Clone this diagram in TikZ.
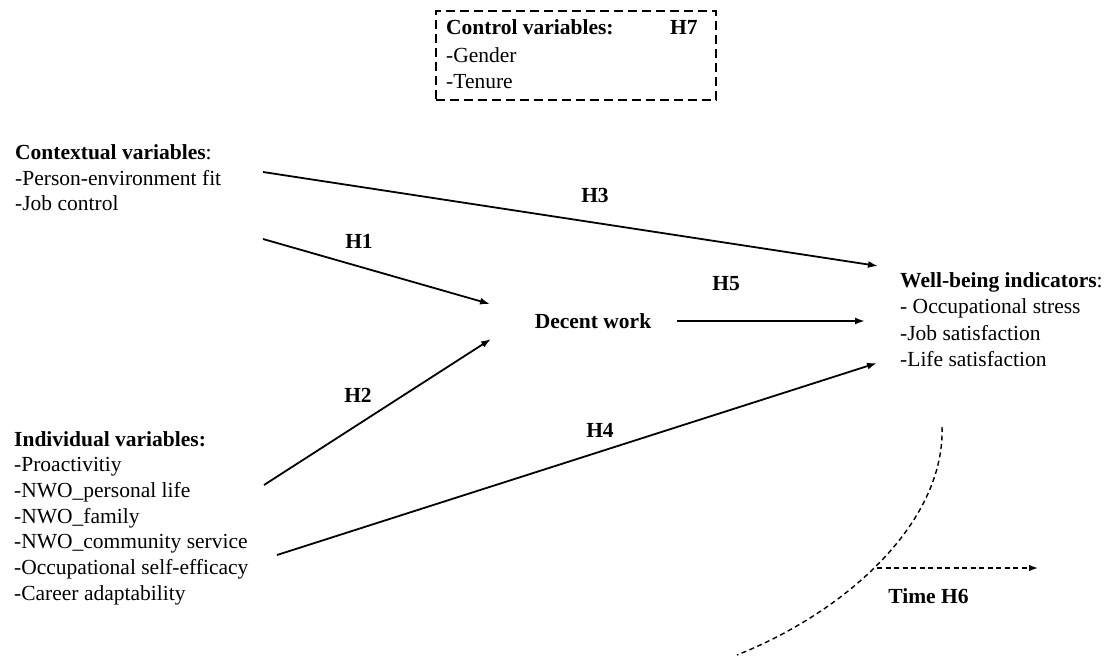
\documentclass[tikz,border=0pt]{standalone}
\usepackage{fontspec}
\setmainfont{Liberation Serif}
\usetikzlibrary{arrows.meta}
\begin{document}
\begin{tikzpicture}[x=1pt,y=-1pt,
  txt/.style={inner sep=0pt, anchor=base west, font=\fontsize{21.5}{25.6}\selectfont},
  hlabel/.style={inner sep=0pt, anchor=base, font=\fontsize{21.5}{25.6}\selectfont\bfseries},
  link/.style={line width=1.8pt, -{Latex[length=10pt,width=7pt]}},
  timeline/.style={line width=1.4pt, dash pattern=on 5pt off 3.5pt},
  ctrlbox/.style={draw, line width=1.8pt, dash pattern=on 9pt off 5pt, inner sep=0pt, anchor=north west}]
\useasboundingbox (0,0) rectangle (1110,668);

% control variables box
\node[ctrlbox, minimum width=280pt, minimum height=89pt] (ctrl) at (435,10) {};
\node[txt] (ctrlhead) at (446,35) {\textbf{Control variables:}};
\node[txt] (h7) at (670,35) {\textbf{H7}};
\node[txt] (ctrl1) at (446,63) {-Gender};
\node[txt] (ctrl2) at (446,88.5) {-Tenure};

% contextual variables
\node[txt] (ctx) at (15,160) {\textbf{Contextual variables}:};
\node[txt] (ctx1) at (15,185.5) {-Person-environment fit};
\node[txt] (ctx2) at (15,211) {-Job control};

% individual variables
\node[txt] (ind) at (14,446) {\textbf{Individual variables:}};
\foreach \t [count=\k] in {-Proactivitiy, -NWO\_personal life, -NWO\_family,
    -NWO\_community service, -Occupational self-efficacy, -Career adaptability}
  \node[txt] (ind\k) at (14,446+25.7*\k) {\t};

% mediator
\node[hlabel] (dw) at (593,328) {Decent work};

% outcomes
\node[txt] (wb) at (900,287) {\textbf{Well-being indicators}:};
\node[txt] (wb1) at (900,313.5) {- Occupational stress};
\node[txt] (wb2) at (900,340) {-Job satisfaction};
\node[txt] (wb3) at (900,366.5) {-Life satisfaction};

% connector end points
\coordinate (h3s) at (263,172);  \coordinate (h3e) at (878,266);
\coordinate (h1s) at (263,239);  \coordinate (h1e) at (490,304);
\coordinate (h2s) at (264,485);  \coordinate (h2e) at (491,339);
\coordinate (h5s) at (677,321);  \coordinate (h5e) at (865,321);
\coordinate (h4s) at (277,555);  \coordinate (h4e) at (877,363);
\coordinate (ts) at (877,568);   \coordinate (te) at (1038,568);
\coordinate (arcs) at (942,427); \coordinate (arce) at (737,655);

% hypothesised paths
\draw[link] (h3s) -- (h3e);
\draw[link] (h1s) -- (h1e);
\draw[link] (h2s) -- (h2e);
\draw[link] (h5s) -- (h5e);
\draw[link] (h4s) -- (h4e);

\node[hlabel] (lh1) at (359,248) {H1};
\node[hlabel] (lh2) at (358,402) {H2};
\node[hlabel] (lh3) at (595,203) {H3};
\node[hlabel] (lh4) at (600,437) {H4};
\node[hlabel] (lh5) at (726,290) {H5};

% time
\draw[timeline] (arcs) .. controls (945,520) and (850,610) .. (arce);
\draw[timeline, -{Latex[length=9pt,width=6.5pt]}] (ts) -- (te);
\node[hlabel] (time) at (928.5,603) {Time H6};
\end{tikzpicture}
\end{document}
